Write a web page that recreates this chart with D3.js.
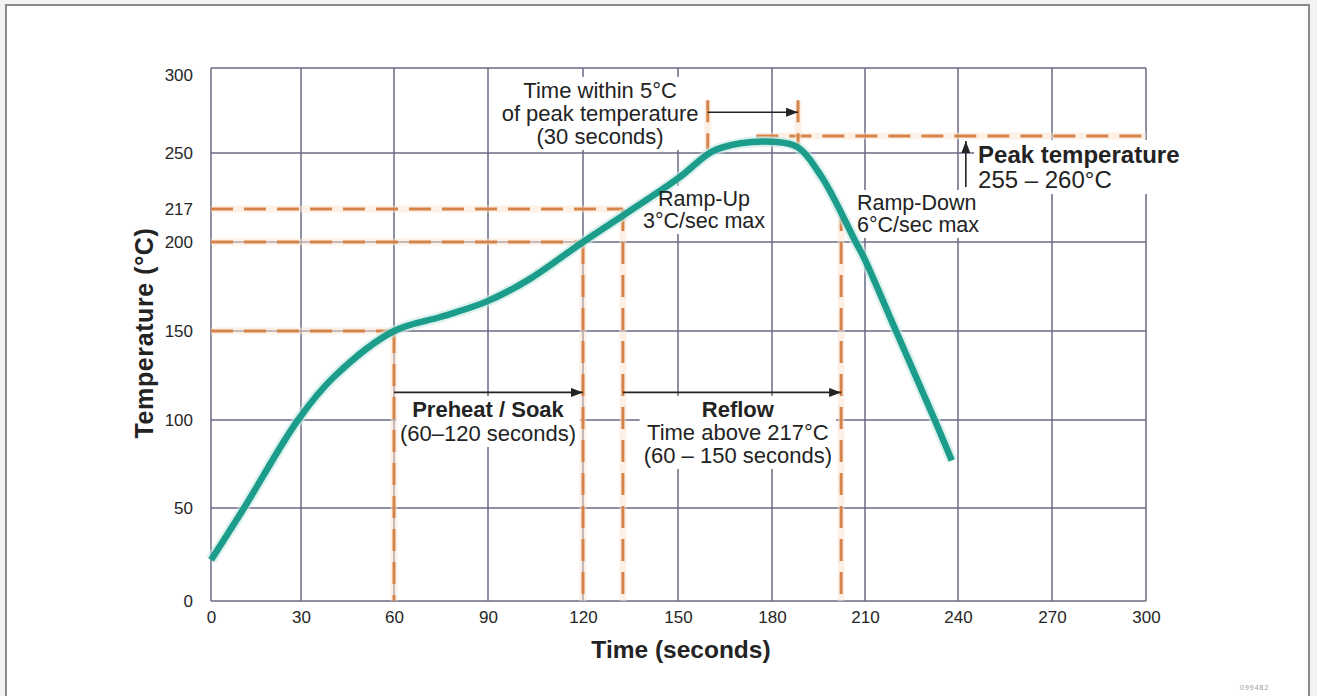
<!DOCTYPE html>
<html>
<head>
<meta charset="utf-8">
<script src="https://cdn.jsdelivr.net/npm/d3@7"></script>
<style>
	html, body { margin: 0; padding: 0; background: #f3f3f3; }
	svg { display: block; font-family: "Liberation Sans", Arial, Helvetica, sans-serif; }
</style>
</head>
<body>
<svg id="chart" width="1317" height="696"></svg>
<script>
// Reflow soldering temperature profile.
//
// Profile: time in seconds, temperature in degrees C.
var timeSec = [0, 11, 29, 40.5, 60, 75, 89.5, 103, 120, 150, 161, 170, 180, 188, 196, 207, 210, 220, 232.5, 238];
var tempC = [22, 50, 100, 124, 150, 158, 166.5, 179, 200, 235, 251, 255.7, 256.6, 253.7, 236, 200, 190, 150, 100, 77];

// Tick labels and grid lines.
var timeTicks = [0, 30, 60, 90, 120, 150, 180, 210, 240, 270, 300];
var tempTicks = [0, 50, 100, 150, 200, 217, 250, 300];
var tempGrid = [0, 50, 100, 150, 200, 250, 300];

// Process limits marked with dashed lines.
var preheatStart = 60, preheatEnd = 120;
var reflowStart = 132.6, reflowEnd = 202.3;
var peakWindowStart = 159.5, peakWindowEnd = 188.4;
var soakTemp = 150, rampTemp = 200, liquidusTemp = 217, peakTemp = 260;

var svg = d3.select('#chart');

// The printed grid is not quite even, so both scales are piecewise linear
// through the positions of the printed grid lines.
var x = d3.scaleLinear()
	.domain(timeTicks)
	.range([211, 301, 394, 488, 583, 678, 772, 865, 958, 1052, 1146]);
var y = d3.scaleLinear()
	.domain(tempTicks)
	.range([601, 508, 420, 331, 242, 209, 153, 68]);

var ink = '#232323';
var gridColor = '#6a6a84';
var dashColor = '#d6834a';
var curveColor = '#1c9c8b';

// Page frame.
svg.append('rect')
	.attr('x', 6).attr('y', 5).attr('width', 1303).attr('height', 710)
	.attr('fill', '#fff').attr('stroke', '#8a8a8a').attr('stroke-width', 2);

svg.append('defs').append('marker')
	.attr('id', 'head')
	.attr('markerUnits', 'userSpaceOnUse')
	.attr('markerWidth', 13).attr('markerHeight', 9)
	.attr('refX', 12).attr('refY', 4.5)
	.attr('orient', 'auto')
	.append('path').attr('d', 'M0,0 L12,4.5 L0,9 Z').attr('fill', ink);

// Grid.
var grid = svg.append('g');
grid.selectAll('.vgrid').data(timeTicks).enter().append('line')
	.attr('x1', function(d) { return x(d); }).attr('x2', function(d) { return x(d); })
	.attr('y1', y(0)).attr('y2', y(300))
	.attr('stroke', gridColor).attr('stroke-width', 1.5);
grid.selectAll('.hgrid').data(tempGrid).enter().append('line')
	.attr('x1', x(0)).attr('x2', x(300))
	.attr('y1', function(d) { return y(d); }).attr('y2', function(d) { return y(d); })
	.attr('stroke', gridColor).attr('stroke-width', 1.5);

// Axes (labels only, the grid draws the lines).
var xAxis = svg.append('g')
	.attr('transform', 'translate(0,' + y(0) + ')')
	.call(d3.axisBottom(x).tickValues(timeTicks).tickSize(0).tickPadding(10));
var yAxis = svg.append('g')
	.attr('transform', 'translate(' + x(0) + ',0)')
	.call(d3.axisLeft(y).tickValues(tempTicks).tickSize(0).tickPadding(18));
[xAxis, yAxis].forEach(function(axis) {
	axis.select('.domain').remove();
	axis.selectAll('text')
		.attr('font-size', 17).attr('fill', '#262626')
		.style('font-family', '"Liberation Sans", Arial, sans-serif');
});
yAxis.selectAll('text').filter(function(d) { return d === 300; }).attr('dy', '0.72em');

svg.append('text')
	.attr('x', 681).attr('y', 658)
	.attr('text-anchor', 'middle')
	.attr('font-size', 24.5).attr('font-weight', 'bold').attr('fill', ink)
	.text('Time (seconds)');
svg.append('text')
	.attr('transform', 'translate(153,333) rotate(-90)')
	.attr('text-anchor', 'middle')
	.attr('font-size', 25).attr('letter-spacing', 0.6).attr('font-weight', 'bold').attr('fill', ink)
	.text('Temperature (°C)');

// Text blocks get a white box so the grid is knocked out behind them.
var boxLayer = svg.append('g');
var dashLayer = svg.append('g');
var curveLayer = svg.append('g');
var textLayer = svg.append('g');

function textBlock(lines, px, py, anchor, lineHeight) {
	var g = textLayer.append('g');
	lines.forEach(function(line, i) {
		g.append('text')
			.attr('x', px).attr('y', py + i * lineHeight)
			.attr('text-anchor', anchor)
			.attr('font-size', line.size).attr('font-weight', line.bold ? 'bold' : 'normal')
			.attr('fill', ink)
			.text(line.text);
	});
	var b = g.node().getBBox();
	boxLayer.append('rect')
		.attr('x', b.x - 4).attr('y', b.y - 1).attr('width', b.width + 8).attr('height', b.height + 2)
		.attr('fill', '#fff');
	return g;
}

// Dashed limit lines, with a faint glow like the printed original.
function dashed(x1, y1, x2, y2) {
	dashLayer.append('line')
		.attr('x1', x1).attr('y1', y1).attr('x2', x2).attr('y2', y2)
		.attr('stroke', '#fbe4d0').attr('stroke-width', 7).attr('stroke-opacity', 0.5);
	dashLayer.append('line')
		.attr('x1', x1).attr('y1', y1).attr('x2', x2).attr('y2', y2)
		.attr('stroke', dashColor).attr('stroke-width', 3)
		.attr('stroke-dasharray', '22,11');
}
dashed(x(0), y(soakTemp), x(preheatStart), y(soakTemp));
dashed(x(preheatStart), y(soakTemp), x(preheatStart), y(0));
dashed(x(0), y(rampTemp), x(preheatEnd), y(rampTemp));
dashed(x(preheatEnd), y(rampTemp), x(preheatEnd), y(0));
dashed(x(0), y(liquidusTemp), x(reflowStart), y(liquidusTemp));
dashed(x(reflowStart), y(liquidusTemp), x(reflowStart), y(0));
dashed(x(reflowEnd), y(liquidusTemp), x(reflowEnd), y(0));
dashed(x(175), y(peakTemp), x(300), y(peakTemp));
dashed(x(peakWindowStart), y(281), x(peakWindowStart), y(252));
dashed(x(peakWindowEnd), y(281), x(peakWindowEnd), y(252));

// The profile curve.
var profile = d3.zip(timeSec, tempC);
var line = d3.line()
	.x(function(d) { return x(d[0]); })
	.y(function(d) { return y(d[1]); })
	.curve(d3.curveCatmullRom.alpha(0.5));
curveLayer.append('path').datum(profile)
	.attr('d', line).attr('fill', 'none')
	.attr('stroke', '#c4e8e2').attr('stroke-width', 11).attr('stroke-opacity', 0.6);
curveLayer.append('path').datum(profile)
	.attr('d', line).attr('fill', 'none')
	.attr('stroke', curveColor).attr('stroke-width', 6.5);

// Arrows.
function arrow(x1, y1, x2, y2) {
	textLayer.append('line')
		.attr('x1', x1).attr('y1', y1).attr('x2', x2).attr('y2', y2)
		.attr('stroke', ink).attr('stroke-width', 1.6)
		.attr('marker-end', 'url(#head)');
}
arrow(x(preheatStart), y(115.5), x(preheatEnd), y(115.5));
arrow(x(reflowStart), y(115.5), x(reflowEnd), y(115.5));
arrow(x(peakWindowStart), y(274), x(peakWindowEnd), y(274));
arrow(x(242.5), y(230), x(242.5), y(257));

// Annotations.
textBlock([
	{text: 'Time within 5°C', size: 22},
	{text: 'of peak temperature', size: 22},
	{text: '(30 seconds)', size: 22}
], x(125.4), y(282.4), 'middle', 23);
textBlock([
	{text: 'Ramp-Up', size: 21.5},
	{text: '3°C/sec max', size: 21.5}
], x(158.3), y(218.8), 'middle', 22);
textBlock([
	{text: 'Ramp-Down', size: 21.5},
	{text: '6°C/sec max', size: 21.5}
], x(207.4), y(216.5), 'start', 22);
textBlock([
	{text: 'Peak temperature', size: 24, bold: true},
	{text: '255 – 260°C', size: 24}
], x(246.4), y(244.1), 'start', 25);
textBlock([
	{text: 'Preheat / Soak', size: 22, bold: true},
	{text: '(60–120 seconds)', size: 22}
], x(90), y(101.7), 'middle', 24);
textBlock([
	{text: 'Reflow', size: 22, bold: true},
	{text: 'Time above 217°C', size: 22},
	{text: '(60 – 150 seconds)', size: 22}
], x(169.1), y(101.7), 'middle', 23);

// Figure number in the corner.
svg.append('text')
	.attr('x', 1240).attr('y', 690)
	.attr('font-size', 7).attr('letter-spacing', 1).attr('fill', '#9a9a9a')
	.text('099482');
</script>
</body>
</html>
